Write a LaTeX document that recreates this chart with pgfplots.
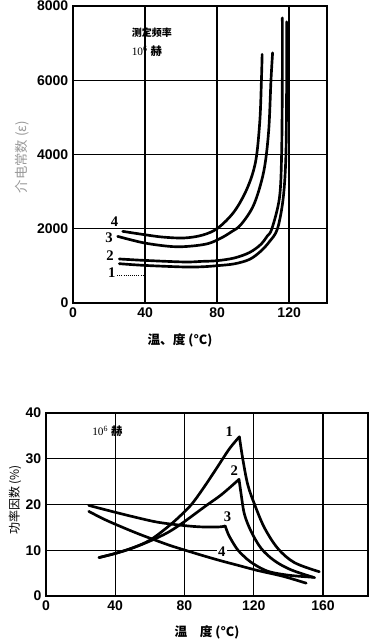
\documentclass[border=0pt]{standalone}
\usepackage{fontspec}
\usepackage{pgfplots}
\pgfplotsset{compat=1.18}
\setmainfont{Liberation Serif}
\newfontfamily\tickfont{Liberation Sans}
\newfontfamily\cjk{Noto Sans CJK SC}
\pgfplotsset{
  mystyle/.style={
    scale only axis,
    anchor=south west,
    grid=major,
    major grid style={black, line width=1.05pt},
    axis line style={line width=1.4pt},
    major tick length=0pt,
    tick label style={font=\tickfont\bfseries\fontsize{10.5}{12}\selectfont},
    /pgf/number format/assume math mode=true,
    /pgf/number format/1000 sep={},
  },
  curve/.style={black, line width=2pt, smooth, tension=0.55, no markers, line cap=round},
}
\tikzset{lab/.style={font=\bfseries\fontsize{11}{12}\selectfont}}
\begin{document}
\begin{tikzpicture}[x=0.75pt,y=0.75pt]
\useasboundingbox (0,0) rectangle (377,643);
% ---------------- top chart ----------------
\begin{axis}[mystyle, at={(54.75pt,255pt)}, width=190.5pt, height=222.75pt,
  xmin=0, xmax=141, ymin=0, ymax=8000,
  xtick={0,40,80,120}, ytick={0,2000,4000,6000,8000}]
\addplot[curve] coordinates {(25.7,1059) (39.6,1013) (61.8,970) (71.5,975) (80,1005) (89.6,1055) (98,1175) (104.1,1390) (109,1650) (113.5,2000) (116.7,2830) (118.2,4000) (118.6,6000) (118.6,7576)};
\addplot[curve] coordinates {(25.7,1186) (39.6,1148) (61.8,1105) (71.5,1121) (80,1140) (89.6,1213) (98,1360) (104.1,1571) (107.8,1800) (110.4,2000) (114.6,2830) (115.8,4000) (116.2,6000) (116.2,7680)};
\addplot[curve] coordinates {(24.8,1795) (39.6,1617) (55,1520) (65,1530) (75,1600) (82.3,1752) (88,1920) (93.2,2110) (100.4,2650) (105.9,3547) (108.6,4625) (109.9,6000) (110.8,6740)};
\addplot[curve] coordinates {(27.6,1930) (39.6,1841) (50,1775) (61.8,1752) (72,1830) (80.5,2022) (89.6,2470) (96.8,3100) (101.4,3817) (103.7,4895) (104.6,6000) (105,6700)};
\node[lab] at (axis cs:23,2190) {4};
\node[lab] at (axis cs:20,1750) {3};
\node[lab] at (axis cs:20.5,1270) {2};
\node[lab] at (axis cs:21.5,810) {1};
\draw[densely dotted, line width=0.6pt] (axis cs:24.5,750) -- (axis cs:39.5,750);
\node[font=\cjk\bfseries\fontsize{7.5}{9}\selectfont, anchor=west, align=left] at (axis cs:30,7280) {测定频率};
\node[font=\fontsize{8.5}{9}\selectfont, anchor=west] at (axis cs:30,6780) {10\textsuperscript{6} {\cjk\bfseries 赫}};
\end{axis}
\node[font=\cjk\bfseries\fontsize{9.5}{11}\selectfont] at (180,303) {温、度 (°C)};
\node[font=\cjk\fontsize{10}{12}\selectfont, rotate=90, text=black!40] at (22,486) {介电常数 (ε)};
% ---------------- bottom chart ----------------
\begin{axis}[mystyle, at={(34.5pt,35.25pt)}, width=241.5pt, height=137.25pt,
  xmin=0, xmax=186, ymin=0, ymax=40,
  xtick={0,40,80,120,160}, ytick={0,10,20,30,40}]
\addplot[curve] coordinates {(30.6,8.4) (40,9.3) (50,10.5) (60,12.2) (70,15.0) (77.5,17.5) (84,20.0) (90.4,23.3) (98,27.6) (105.8,32.1) (111.7,34.8)};
\addplot[curve] coordinates {(111.7,34.8) (113.6,30.1) (116.5,24.4) (120.4,20.1) (126.2,14.9) (133.9,10.4) (143.5,7.3) (157.9,5.3)};
\addplot[curve] coordinates {(30.6,8.4) (40,9.3) (50,10.5) (60,12.0) (70,13.8) (77.5,15.6) (83,17.1) (92.3,19.7) (101.5,22.2) (111.5,25.5)};
\addplot[curve] coordinates {(111.5,25.5) (112.7,22.3) (114.6,17.9) (118.5,14.1) (124.3,10.4) (132,7.7) (141.7,5.7) (155.2,4.0)};
\addplot[curve] coordinates {(24.7,19.8) (40,18.3) (54,17.0) (65,16.1) (79.6,15.4) (90,15.1) (100,15.1) (103.5,15.3)};
\addplot[curve] coordinates {(103.5,15.3) (105.2,13.6) (107,12.3) (110.5,10.2) (114,8.8) (118,7.5) (124,6.1) (130,5.2) (141,4.5) (154,4.1)};
\addplot[curve] coordinates {(24.7,18.5) (34,16.7) (44.3,15.0) (54,13.5) (63.9,12.1) (72,11.0) (79.6,10.1) (90,8.9) (101,7.7) (110,6.8) (122,5.6) (137,4.3) (150.3,2.8)};
\node[lab] at (axis cs:105.9,35.9) {1};
\node[lab] at (axis cs:108.8,27.3) {2};
\node[lab] at (axis cs:104.9,17.4) {3};
\node[lab, fill=white, inner sep=1pt] at (axis cs:101.5,9.6) {4};
\node[font=\fontsize{8.5}{9}\selectfont, anchor=west] at (axis cs:24,36) {10\textsuperscript{6} {\cjk\bfseries 赫}};
\end{axis}
\node[font=\cjk\bfseries\fontsize{9.5}{11}\selectfont] at (207,11) {温　度 (°C)};
\node[font=\cjk\fontsize{9}{11}\selectfont, rotate=90] at (15,143) {功率因数 (\%)};
\end{tikzpicture}
\end{document}
